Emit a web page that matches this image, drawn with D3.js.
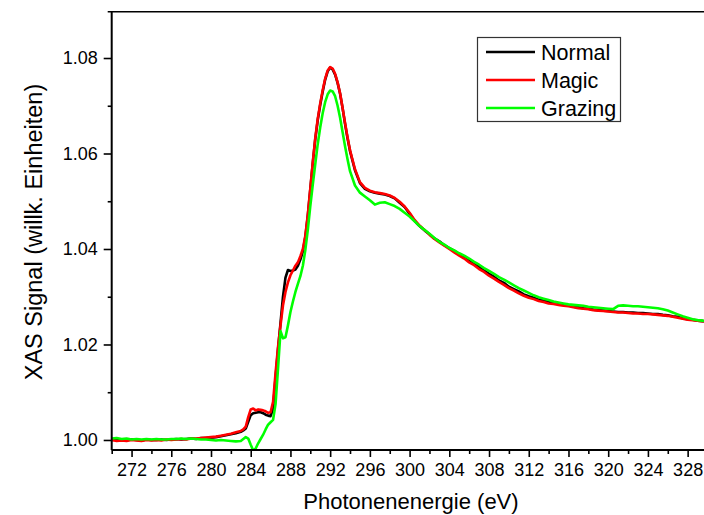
<!DOCTYPE html>
<html>
<head>
<meta charset="utf-8">
<script src="https://cdn.jsdelivr.net/npm/d3@7"></script>
<style>
  body { margin: 0; background: #fff; }
  svg { display: block; font-family: "Liberation Sans", Arial, sans-serif; }
</style>
</head>
<body>
<svg id="chart" width="704" height="515"></svg>
<script>
// photon energy (eV), shared by all three spectra
const energy = [
  270, 270.5, 271, 271.5, 272, 272.5, 273, 273.5, 274, 274.5, 275, 275.5, 276, 276.5,
  277, 277.5, 278, 278.5, 279, 279.5, 280, 280.5, 281, 281.5, 282, 282.5, 283,
  283.25, 283.5, 283.75, 284, 284.25, 284.5, 284.75, 285, 285.25, 285.5, 285.75,
  286, 286.25, 286.5, 286.75, 287, 287.25, 287.5, 287.75, 288, 288.25, 288.5, 288.75,
  289, 289.25, 289.5, 289.75, 290, 290.25, 290.5, 290.75, 291, 291.25, 291.5, 291.75,
  292, 292.25, 292.5, 292.75, 293, 293.25, 293.5, 293.75, 294,
  294.5, 295, 295.5, 296, 296.5, 297, 297.5, 298, 298.5, 299, 299.5, 300,
  300.5, 301, 301.5, 302, 302.5, 303, 303.5, 304, 304.5, 305, 305.5, 306,
  306.5, 307, 307.5, 308, 308.5, 309, 309.5, 310, 310.5, 311, 311.5, 312,
  312.5, 313, 313.5, 314, 314.5, 315, 315.5, 316, 316.5, 317, 317.5, 318,
  318.5, 319, 319.5, 320, 320.5, 321, 321.5, 322, 322.5, 323, 323.5, 324,
  324.5, 325, 325.5, 326, 326.5, 327, 327.5, 328, 328.5, 329, 329.5, 330
];

const normal = [
  1.0000, 1.0001, 0.9999, 1.0000, 1.0001, 1.0000, 0.9999, 1.0001, 1.0000, 1.0000, 1.0001, 1.0000, 1.0001, 1.0002,
  1.0001, 1.0002, 1.0003, 1.0002, 1.0004, 1.0004, 1.0005, 1.0006, 1.0008, 1.0010, 1.0012, 1.0014, 1.0017,
  1.0020, 1.0024, 1.0038, 1.0052, 1.0056, 1.0057, 1.0058, 1.0058, 1.0056, 1.0053, 1.0051,
  1.0050, 1.0065, 1.0130, 1.0190, 1.0245, 1.0300, 1.0340, 1.0356, 1.0354, 1.0355, 1.0357, 1.0365,
  1.0378, 1.0395, 1.0425, 1.0470, 1.0525, 1.0580, 1.0630, 1.0670, 1.0702, 1.0730, 1.0755, 1.0772,
  1.0780, 1.0776, 1.0765, 1.0748, 1.0725, 1.0695, 1.0662, 1.0632, 1.0605,
  1.0565, 1.0538, 1.0526, 1.0521, 1.0518, 1.0516, 1.0514, 1.0511, 1.0506, 1.0497, 1.0488, 1.0474,
  1.0459, 1.0448, 1.0439, 1.0431, 1.0422, 1.0416, 1.0408, 1.0402, 1.0396, 1.0389, 1.0383, 1.0376,
  1.0369, 1.0363, 1.0355, 1.0348, 1.0342, 1.0334, 1.0329, 1.0321, 1.0316, 1.0311, 1.0305, 1.0301,
  1.0298, 1.0294, 1.0292, 1.0289, 1.0287, 1.0286, 1.0283, 1.0282, 1.0279, 1.0278, 1.0276, 1.0275,
  1.0273, 1.0272, 1.0271, 1.0270, 1.0269, 1.0268, 1.0268, 1.0267, 1.0267, 1.0266, 1.0266, 1.0265,
  1.0264, 1.0264, 1.0262, 1.0261, 1.0259, 1.0258, 1.0255, 1.0253, 1.0252, 1.0250, 1.0249, 1.0248
];

const magic = [
  1.0000, 0.9998, 0.9999, 0.9998, 1.0000, 0.9999, 0.9998, 1.0000, 0.9999, 1.0000, 0.9999, 1.0001, 1.0000, 1.0001,
  1.0002, 1.0001, 1.0003, 1.0003, 1.0004, 1.0005, 1.0006, 1.0007, 1.0009, 1.0011, 1.0013, 1.0016, 1.0019,
  1.0022, 1.0028, 1.0048, 1.0064, 1.0066, 1.0062, 1.0064, 1.0063, 1.0062, 1.0060, 1.0057,
  1.0058, 1.0080, 1.0140, 1.0195, 1.0240, 1.0282, 1.0310, 1.0330, 1.0345, 1.0355, 1.0365, 1.0372,
  1.0385, 1.0400, 1.0428, 1.0472, 1.0527, 1.0582, 1.0632, 1.0673, 1.0705, 1.0733, 1.0757, 1.0774,
  1.0781, 1.0778, 1.0767, 1.0749, 1.0726, 1.0696, 1.0664, 1.0634, 1.0607,
  1.0567, 1.0540, 1.0528, 1.0522, 1.0519, 1.0517, 1.0515, 1.0512, 1.0507, 1.0499, 1.0489, 1.0476,
  1.0461, 1.0449, 1.0440, 1.0430, 1.0421, 1.0414, 1.0407, 1.0400, 1.0393, 1.0386, 1.0380, 1.0372,
  1.0366, 1.0358, 1.0352, 1.0344, 1.0338, 1.0331, 1.0325, 1.0318, 1.0313, 1.0307, 1.0302, 1.0298,
  1.0295, 1.0291, 1.0289, 1.0286, 1.0285, 1.0283, 1.0281, 1.0280, 1.0278, 1.0276, 1.0275, 1.0274,
  1.0272, 1.0271, 1.0270, 1.0269, 1.0268, 1.0267, 1.0267, 1.0266, 1.0265, 1.0265, 1.0264, 1.0264,
  1.0263, 1.0262, 1.0261, 1.0260, 1.0258, 1.0256, 1.0254, 1.0252, 1.0251, 1.0250, 1.0249, 1.0248
];

const grazing = [
  1.0003, 1.0004, 1.0002, 1.0003, 1.0001, 1.0002, 1.0001, 1.0002, 1.0001, 1.0002, 1.0001, 1.0001, 1.0002, 1.0002,
  1.0003, 1.0002, 1.0003, 1.0002, 1.0001, 1.0001, 1.0000, 0.9999, 1.0000, 0.9999, 0.9998, 0.9997, 0.9998,
  1.0002, 1.0006, 1.0003, 0.9990, 0.9978, 0.9982, 0.9993, 1.0002, 1.0011, 1.0022, 1.0032,
  1.0037, 1.0042, 1.0075, 1.0150, 1.0228, 1.0213, 1.0215, 1.0240, 1.0268, 1.0290, 1.0310, 1.0327,
  1.0343, 1.0365, 1.0398, 1.0440, 1.0490, 1.0535, 1.0578, 1.0620, 1.0655, 1.0685, 1.0708, 1.0724,
  1.0732, 1.0730, 1.0720, 1.0700, 1.0675, 1.0645, 1.0615, 1.0588, 1.0563,
  1.0533, 1.0518, 1.0510, 1.0502, 1.0493, 1.0497, 1.0498, 1.0494, 1.0490, 1.0484, 1.0476, 1.0468,
  1.0458, 1.0448, 1.0440, 1.0432, 1.0423, 1.0415, 1.0409, 1.0402, 1.0397, 1.0391, 1.0386, 1.0380,
  1.0373, 1.0367, 1.0360, 1.0354, 1.0348, 1.0341, 1.0336, 1.0330, 1.0324, 1.0318, 1.0313, 1.0308,
  1.0303, 1.0299, 1.0296, 1.0293, 1.0290, 1.0288, 1.0286, 1.0284, 1.0283, 1.0282, 1.0281, 1.0279,
  1.0278, 1.0277, 1.0276, 1.0275, 1.0274, 1.0281, 1.0282, 1.0281, 1.0280, 1.0280, 1.0279, 1.0278,
  1.0277, 1.0276, 1.0274, 1.0271, 1.0267, 1.0263, 1.0259, 1.0256, 1.0253, 1.0251, 1.0250, 1.0249
];

const seriesNames = ["Normal", "Magic", "Grazing"];
const seriesColors = ["#000000", "#ff0000", "#00ff00"];
const xTicksMajor = [272, 276, 280, 284, 288, 292, 296, 300, 304, 308, 312, 316, 320, 324, 328];
const xTicksMinor = [270, 274, 278, 282, 286, 290, 294, 298, 302, 306, 310, 314, 318, 322, 326, 330];
const yTicksMajor = [1.00, 1.02, 1.04, 1.06, 1.08];
const yTicksMinor = [1.01, 1.03, 1.05, 1.07];

const svg = d3.select("#chart");
const plotL = 111.7, plotR = 707.5, plotT = 11.7, plotB = 450;

const x = d3.scaleLinear().domain([270, 330]).range([plotL, plotR]);
const y = d3.scaleLinear().domain([0.9979, 1.0897]).range([plotB, plotT]);

// clip the spectra to the frame
svg.append("clipPath").attr("id", "plot-clip")
  .append("rect")
  .attr("x", plotL).attr("y", plotT)
  .attr("width", plotR - plotL).attr("height", plotB - plotT);

const allSeries = [normal, magic, grazing];
const line = d3.line()
  .x((d, i) => x(energy[i]))
  .y(d => y(d));

svg.append("g")
  .attr("clip-path", "url(#plot-clip)")
  .selectAll("path")
  .data(allSeries)
  .enter()
  .append("path")
  .attr("d", d => line(d))
  .attr("fill", "none")
  .attr("stroke", (d, i) => seriesColors[i])
  .attr("stroke-width", 2.6)
  .attr("stroke-linejoin", "round");

// x axis (bottom) with major + minor ticks
const xAxis = svg.append("g").attr("transform", "translate(0," + plotB + ")");
xAxis.call(d3.axisBottom(x).tickValues(xTicksMajor).tickSize(7).tickPadding(6).tickFormat(d3.format("d")));
xAxis.append("g").call(d3.axisBottom(x).tickValues(xTicksMinor).tickSize(4).tickFormat(""));
xAxis.selectAll(".domain").remove();

// y axis (left)
const yAxis = svg.append("g").attr("transform", "translate(" + plotL + ",0)");
yAxis.call(d3.axisLeft(y).tickValues(yTicksMajor).tickSize(8).tickPadding(6).tickFormat(d3.format(".2f")));
yAxis.append("g").call(d3.axisLeft(y).tickValues(yTicksMinor).tickSize(4).tickFormat(""));
yAxis.selectAll(".domain").remove();

svg.selectAll(".tick line").attr("stroke", "#000").attr("stroke-width", 1.6);
svg.selectAll(".tick text")
  .attr("fill", "#000")
  .style("font-size", "18px")
  .style("font-family", "'Liberation Sans', Arial, sans-serif");

// frame lines
svg.append("line").attr("x1", plotL).attr("x2", plotL).attr("y1", plotT).attr("y2", plotB)
  .attr("stroke", "#000").attr("stroke-width", 2);
svg.append("line").attr("x1", plotL).attr("x2", plotR).attr("y1", plotB).attr("y2", plotB)
  .attr("stroke", "#000").attr("stroke-width", 2);
svg.append("line").attr("x1", plotL - 4).attr("x2", plotR).attr("y1", plotT).attr("y2", plotT)
  .attr("stroke", "#000").attr("stroke-width", 1.5);

// axis titles
svg.append("text")
  .attr("x", 411)
  .attr("y", 509)
  .attr("text-anchor", "middle")
  .style("font-size", "22px")
  .text("Photonenenergie (eV)");

svg.append("text")
  .attr("transform", "translate(42,232) rotate(-90)")
  .attr("text-anchor", "middle")
  .style("font-size", "23.5px")
  .text("XAS Signal (willk. Einheiten)");

// legend
const legend = svg.append("g");
legend.append("rect")
  .attr("x", 477.5).attr("y", 37.5)
  .attr("width", 143).attr("height", 84)
  .attr("fill", "#fff").attr("stroke", "#333").attr("stroke-width", 1.2);

const item = legend.selectAll("g.item")
  .data(seriesNames)
  .enter()
  .append("g")
  .attr("class", "item")
  .attr("transform", (d, i) => "translate(0," + (52 + i * 28) + ")");

item.append("line")
  .attr("x1", 486).attr("x2", 535)
  .attr("stroke", (d, i) => seriesColors[i])
  .attr("stroke-width", 2.6);

item.append("text")
  .attr("x", 541)
  .attr("y", 7.5)
  .style("font-size", "21.5px")
  .text(d => d);
</script>
</body>
</html>
